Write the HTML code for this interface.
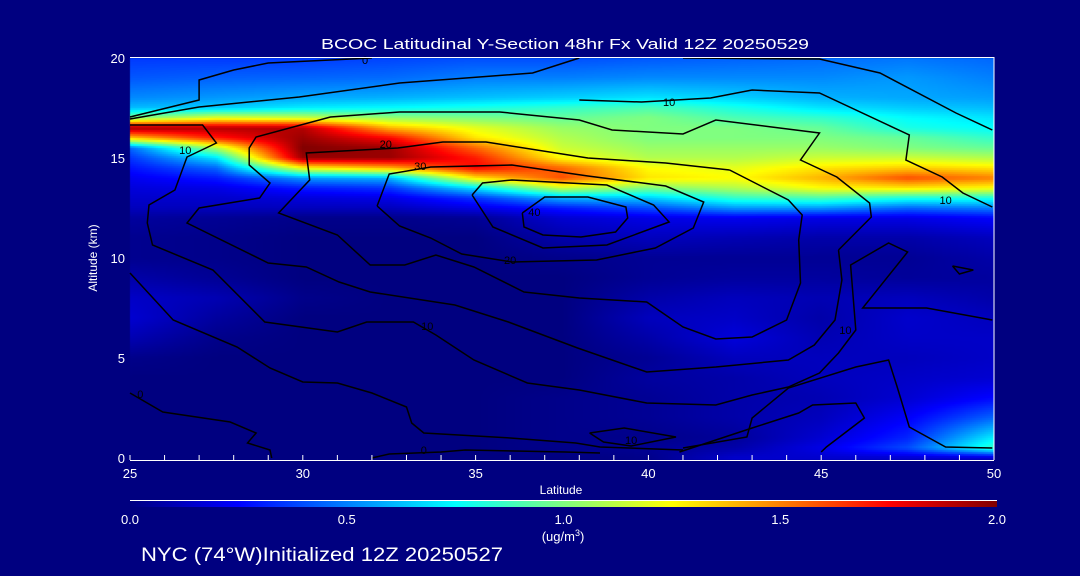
<!DOCTYPE html>
<html><head><meta charset="utf-8"><style>
html,body{margin:0;padding:0;background:#000080;}
#wrap{position:relative;width:1080px;height:576px;background:#000080;overflow:hidden;font-family:"Liberation Sans",sans-serif;}
canvas{position:absolute;left:0;top:0;}
svg{position:absolute;left:0;top:0;}
</style></head><body>
<div id="wrap">
<canvas id="heat" width="1080" height="576"></canvas>
<svg id="ov" width="1080" height="576">
<defs><linearGradient id="jet" x1="0" x2="1" y1="0" y2="0">
<stop offset="0" stop-color="#000080"/><stop offset="0.125" stop-color="#0000ff"/><stop offset="0.375" stop-color="#00ffff"/><stop offset="0.625" stop-color="#ffff00"/><stop offset="0.875" stop-color="#ff0000"/><stop offset="1" stop-color="#800000"/></linearGradient></defs>
<text x="565" y="49" fill="#fff" font-size="15" text-anchor="middle" textLength="488" lengthAdjust="spacingAndGlyphs">BCOC Latitudinal Y-Section 48hr  Fx Valid 12Z 20250529</text>
<g id="contours"></g>
<g id="clabels"></g>
<line x1="130" y1="57.5" x2="994" y2="57.5" stroke="#fff" stroke-width="1"/>
<line x1="994" y1="57" x2="994" y2="460" stroke="#fff" stroke-width="1"/>
<line x1="130" y1="460.5" x2="994" y2="460.5" stroke="#fff" stroke-width="1"/>
<g id="xticks"></g>
<g id="yticks"></g>
<text x="561" y="494" fill="#fff" font-size="12" text-anchor="middle">Latitude</text>
<text x="0" y="0" fill="#fff" font-size="12" text-anchor="middle" transform="translate(97,258) rotate(-90)">Altitude (km)</text>
<line x1="130" y1="500.5" x2="997" y2="500.5" stroke="#fff" stroke-width="1"/>
<rect x="130" y="501" width="867" height="6" fill="url(#jet)"/>
<g id="cbticks"></g>
<text x="563" y="541" fill="#fff" font-size="13" text-anchor="middle">(ug/m<tspan dy="-5" font-size="9">3</tspan><tspan dy="5">)</tspan></text>
<text x="141" y="561" fill="#fff" font-size="19" textLength="362" lengthAdjust="spacingAndGlyphs">NYC (74°W)Initialized 12Z 20250527</text>
</svg>
</div>
<script>
// ---- data ----
const lats = [25,27.5,30,32.5,35,37.5,40,42.5,45,47.5,50];
const alts = [0,0.5,1,2,3,4,5,6,7,8,9,10,11,12,12.5,13,13.5,14,14.5,15,15.5,16,16.5,17,17.5,18,19,20];
const conc = [
[0,0,0,0,0,0,.02,.15,.15,.15,.15],
[0,0,0,0,0,.02,.04,.08,.2,.4,.85],
[0,0,0,0,0,.02,.02,.05,.16,.32,.72],
[0,0,0,0,0,.02,.04,.08,.12,.24,.45],
[0,0,0,0,0,.02,.04,.08,.1,.16,.26],
[0,0,0,0,0,0,.06,.08,.12,.14,.16],
[.02,0,0,0,0,0,.04,.12,.12,.12,.14],
[.1,.02,0,0,0,0,.08,.18,.1,.14,.14],
[.16,.06,0,0,0,0,.12,.14,.08,.15,.12],
[.14,.1,.02,0,0,0,.08,.12,.1,.12,.08],
[.08,.04,0,0,0,0,.04,.06,.06,.05,.06],
[.03,.02,0,0,0,.02,.04,.04,.04,.04,.08],
[.03,.02,0,0,0,.08,.12,.1,.08,.08,.12],
[.06,.04,.02,.02,.04,.16,.2,.22,.2,.2,.25],
[.12,.12,.12,.12,.2,.3,.4,.55,.55,.45,.5],
[.15,.15,.18,.2,.35,.6,.65,.85,.9,.8,.8],
[.18,.2,.3,.35,.7,1.15,1.0,1.1,1.25,1.3,1.25],
[.22,.3,.55,.6,1.3,1.6,1.3,1.25,1.4,1.6,1.5],
[.28,.45,1.25,1.4,1.75,1.55,1.25,1.2,1.3,1.35,1.3],
[.35,.7,1.95,1.95,1.7,1.25,1.1,1.1,1.15,1.15,1.1],
[.45,1.1,2.0,1.95,1.55,1.15,1.05,1.05,1.05,1.0,.95],
[1.35,1.7,1.95,1.75,1.3,1.1,1.0,1.0,1.0,.95,.85],
[1.95,1.9,1.9,1.4,1.2,1.05,1.0,1.0,.95,.8,.75],
[1.0,1.2,1.15,1.05,1.0,.95,1.0,.9,.85,.75,.7],
[.62,.65,.72,.75,.8,.85,.9,.8,.7,.65,.62],
[.52,.55,.58,.6,.63,.66,.7,.66,.6,.58,.56],
[.42,.44,.45,.46,.5,.5,.52,.52,.52,.55,.5],
[.36,.36,.36,.38,.4,.4,.42,.44,.46,.48,.45]
];
// contour lines as [lat, alt] pairs
const contour0a = [[25,17.05],[27,17.9],[27,18.9],[28,19.4],[29,19.75],[32,20]];
const contour0b = [[25,16.95],[27,17.55],[29.9,18.05],[32.8,18.75],[36.65,19.25],[38,20]];
const contour0c = [[41,20],[44.95,19.95],[46.7,19.25],[48.9,17.25],[49.95,16.4]];
const contour10u = [[38,17.9],[39.8,17.8],[41.8,18],[43,18.4],[44.95,18.25],[47.55,16.15],[47.45,14.9],[48.5,14.05],[49.1,13.25],[49.95,12.55]];
const contour10 = [[25,16.65],[27.1,16.65],[27.5,15.75],[26.65,15.05],[26.3,13.4],[25.55,12.65],[25.5,11.75],[25.65,10.65],[27.4,9.4],[28.9,6.8],[31,6.3],[31.85,6.8],[33.2,6.8],[33.85,6.15],[34.95,4.9],[36.5,3.75],[38,3.4],[39.95,2.75],[41.95,2.65],[43,3.15],[44.05,3.55],[44.95,4.25],[45.5,5.25],[46,6.4],[45.85,9.65],[46.95,10.75],[47.5,10.3],[46.2,7.5],[48.05,7.5],[49.95,6.9]];
const contour15 = [[45.5,10.4],[46.45,12.05],[46.4,12.75],[45.45,14.05],[44.4,14.9],[44.95,16.25],[41.95,16.9],[41,16.2],[38.95,16.4],[38,16.9],[35.7,17.3],[32.8,17.3],[30.8,17.05],[28.65,16.05],[28.45,15.5],[28.45,14.65],[29.05,13.75],[28.75,13],[27,12.5],[26.65,11.75],[29,9.75],[30.1,9.55],[31.05,8.8],[31.95,8.3],[34.4,7.65],[35.95,6.8],[37.95,5.5],[39.95,4.3],[41.95,4.55],[44.05,4.9],[44.8,5.65],[45.4,6.9],[45.6,8.9],[45.5,10.4]];
const contour20 = [[42.35,14.4],[40.5,14.75],[38.25,15],[35.3,15.8],[34.05,15.8],[32.75,15.5],[30.1,15.25],[30.2,13.9],[29.3,12.25],[31,11.15],[31.95,9.65],[32.95,9.65],[33.85,10.15],[34.95,9.55],[36.4,8.3],[38,8],[39.95,7.8],[41,6.55],[41.95,5.95],[43,6.05],[44,6.9],[44.4,8.75],[44.35,10.9],[44.45,12.15],[44.05,12.9],[43.2,13.65],[42.35,14.4]];
const contour30 = [[32.15,12.6],[32.5,14.2],[33.7,14.55],[36.05,14.65],[38.25,14.1],[40.5,13.6],[41.6,12.8],[41.3,11.5],[40.2,10.5],[38.5,9.9],[36.05,9.8],[34.6,10.2],[33.7,11],[32.8,11.6],[32.15,12.6]];
const contour35 = [[34.9,13.15],[35.2,13.75],[36.05,13.9],[38.8,13.65],[40.15,12.65],[40.6,11.8],[38.8,10.65],[36.95,10.5],[35.5,11.55],[34.9,13.15]];
const contour40 = [[36.35,12.25],[37,13.05],[38.25,13.05],[39.35,12.55],[39.4,12],[39.05,11.3],[38.05,11.05],[36.95,11.15],[36.4,11.55],[36.35,12.25]];
const contourLowA = [[25,3.25],[25.95,2.3],[27.9,1.8],[28.65,1.25],[28.4,0.75],[29.05,0.4],[29.1,0]];
const contourLowB = [[25,9.25],[26.25,6.9],[28.1,5.55],[29.05,4.5],[30,3.8],[31,3.75],[32,3.25],[33,2.55],[33.15,1.75],[33.5,1.25],[36,1],[37.9,0.75],[38.6,0.55],[41,0.4]];
const contourLowC = [[32,0],[32.5,0.2],[34,0.3],[34.7,0.4],[37.6,0.3],[38.6,0.25]];
const contourLowD = [[41,0.5],[42.85,1.05],[43,2],[44.05,3.5],[46,4.55],[46.95,4.9],[47.2,3.55],[47.55,1.55],[48.6,0.55],[49.95,0.5]];
const contourLowE = [[40.9,0.3],[43,1.5],[44.35,2.25],[44.75,2.65],[46,2.75],[46.25,2],[45.15,0.55],[45,0.3]];
const contourLowF = [[38.3,1.25],[39.3,1.5],[40.8,1.05],[39.5,0.6],[38.7,0.8],[38.3,1.25]];
const contourSmall = [[48.8,9.6],[49.4,9.4],[49,9.2],[48.8,9.6]];
const contours = [contour0a,contour0b,contour0c,contour10u,contour10,contour15,contour20,contour30,contour35,contour40,contourLowA,contourLowB,contourLowC,contourLowD,contourLowE,contourLowF,contourSmall];
const labelText = ["0","10","10","20","30","40","20","10","10","0","0","10","10"];
const labelLat = [31.8,40.6,26.6,32.4,33.4,36.7,36.0,33.6,45.7,25.3,33.5,39.5,48.6];
const labelAlt = [19.9,17.8,15.4,15.7,14.6,12.3,9.9,6.6,6.4,3.2,0.4,0.9,12.9];
const xTickVals = [25,30,35,40,45,50];
const yTickVals = [0,5,10,15,20];
const cbTickVals = [0.0,0.5,1.0,1.5,2.0];

// ---- axes ----
const X0=130,X1=994,Y0=458,Y1=58;
function xs(lat){return X0+(lat-25)/25*(X1-X0);}
function ys(alt){return Y0-(alt/20)*(Y0-Y1);}
const JET_T=[0,0.125,0.375,0.625,0.875,1];
const JET_R=[0,0,0,255,255,128];
const JET_G=[0,0,255,255,0,0];
const JET_B=[128,255,255,0,0,0];
function jet(v){const t=Math.max(0,Math.min(1,v/2));
 for(let q=1;q<JET_T.length;q++){if(t<=JET_T[q]){const f=(t-JET_T[q-1])/(JET_T[q]-JET_T[q-1]);
  return [Math.round(JET_R[q-1]+f*(JET_R[q]-JET_R[q-1])),Math.round(JET_G[q-1]+f*(JET_G[q]-JET_G[q-1])),Math.round(JET_B[q-1]+f*(JET_B[q]-JET_B[q-1]))];}}
 return [128,0,0];}
function findIdx(arr,v){for(let q=0;q<arr.length-1;q++){if(v<=arr[q+1])return q;}return arr.length-2;}
function sample(lat,alt){const ci=findIdx(lats,lat),rj=findIdx(alts,alt);
 const fx=Math.max(0,Math.min(1,(lat-lats[ci])/(lats[ci+1]-lats[ci])));
 const fy=Math.max(0,Math.min(1,(alt-alts[rj])/(alts[rj+1]-alts[rj])));
 const v00=conc[rj][ci],v10=conc[rj][ci+1],v01=conc[rj+1][ci],v11=conc[rj+1][ci+1];
 return (v00*(1-fx)+v10*fx)*(1-fy)+(v01*(1-fx)+v11*fx)*fy;}
// heatmap
const cv=document.getElementById('heat'),ctx=cv.getContext('2d');
ctx.fillStyle='#000080';ctx.fillRect(0,0,1080,576);
for(let py=Y1;py<=Y0;py+=2){const alt=(Y0-(py+1))/(Y0-Y1)*20;
 for(let px=X0;px<X1;px+=2){const lat=25+(px+1-X0)/(X1-X0)*25;const c=jet(sample(lat,alt));
  ctx.fillStyle='rgb('+c[0]+','+c[1]+','+c[2]+')';ctx.fillRect(px,py,2,2);}}
const NS='http://www.w3.org/2000/svg';
// contours
const cg=document.getElementById('contours');
contours.forEach(function(c){const p=document.createElementNS(NS,'polyline');
 p.setAttribute('points',c.map(function(q){return xs(q[0]).toFixed(1)+','+ys(q[1]).toFixed(1);}).join(' '));
 p.setAttribute('fill','none');p.setAttribute('stroke','#000');p.setAttribute('stroke-width','1.5');
 
 
 cg.appendChild(p);});
const lg=document.getElementById('clabels');
labelText.forEach(function(t,i){const e=document.createElementNS(NS,'text');
 e.setAttribute('x',xs(labelLat[i]));e.setAttribute('y',ys(labelAlt[i])+4);e.setAttribute('font-size','11');
 e.setAttribute('text-anchor','middle');e.setAttribute('fill','#000');e.textContent=t;
 
 
 lg.appendChild(e);});
// x ticks
const xg=document.getElementById('xticks');
for(let l=25;l<=50;l++){const t=document.createElementNS(NS,'line');
 t.setAttribute('x1',xs(l));t.setAttribute('x2',xs(l));t.setAttribute('y1',460);t.setAttribute('y2',455);
 t.setAttribute('stroke','#fff');
 
 
 xg.appendChild(t);}
xTickVals.forEach(function(v){const e=document.createElementNS(NS,'text');
 e.setAttribute('x',xs(v));e.setAttribute('y',478);e.setAttribute('fill','#fff');e.setAttribute('font-size','13');e.setAttribute('text-anchor','middle');
 e.textContent=String(v);
 
 
 xg.appendChild(e);});
const yg=document.getElementById('yticks');
yTickVals.forEach(function(v){const e=document.createElementNS(NS,'text');
 e.setAttribute('x',125);e.setAttribute('y',ys(v)+5);e.setAttribute('fill','#fff');e.setAttribute('font-size','13');e.setAttribute('text-anchor','end');
 e.textContent=String(v);
 
 
 yg.appendChild(e);});
const cbg=document.getElementById('cbticks');
cbTickVals.forEach(function(v){const e=document.createElementNS(NS,'text');
 e.setAttribute('x',130+v/2*867);e.setAttribute('y',524);e.setAttribute('fill','#fff');e.setAttribute('font-size','13');e.setAttribute('text-anchor','middle');
 e.textContent=v.toFixed(1);
 
 
 cbg.appendChild(e);});
</script>
</body></html>
